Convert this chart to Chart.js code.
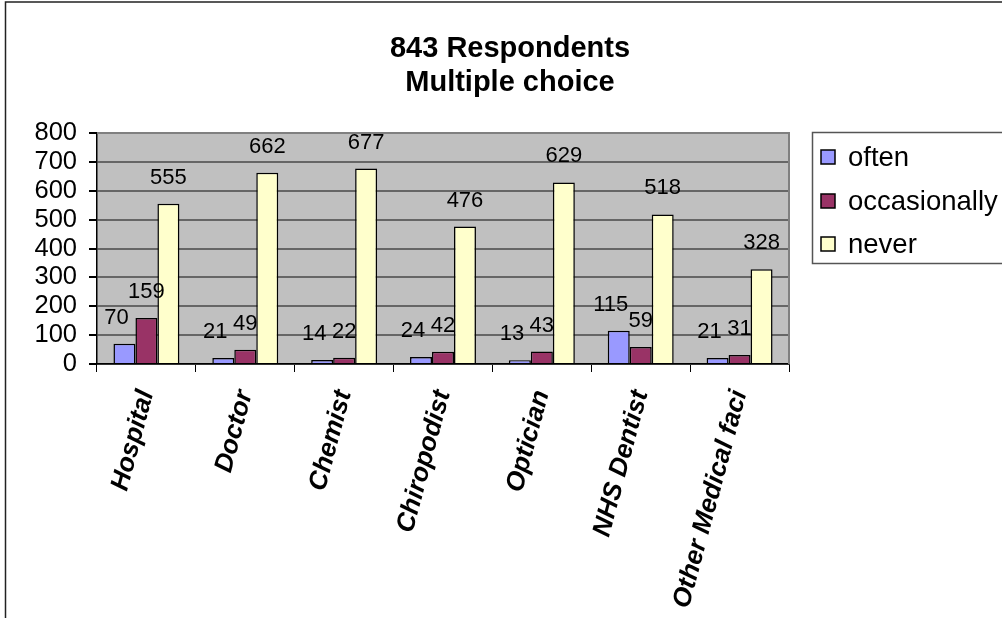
<!DOCTYPE html>
<html><head><meta charset="utf-8">
<script src="https://cdn.jsdelivr.net/npm/chart.js@4.4.0/dist/chart.umd.min.js"></script>
<style>html,body{margin:0;padding:0;background:#fff;overflow:hidden;}</style>
</head><body>
<canvas id="c" width="1002" height="618"></canvas>
<script>
const categories = ['Hospital', 'Doctor', 'Chemist', 'Chiropodist', 'Optician', 'NHS Dentist', 'Other Medical faci'];
const often = [70, 21, 14, 24, 13, 115, 21];
const occasionally = [159, 49, 22, 42, 43, 59, 31];
const never = [555, 662, 677, 476, 629, 518, 328];
const seriesNames = ['often', 'occasionally', 'never'];
const seriesColors = ['#9999FF', '#993366', '#FFFFCC'];
const yTicks = [0, 100, 200, 300, 400, 500, 600, 700, 800];
const titleLines = ['843 Respondents', 'Multiple choice'];

const FONT = "'Liberation Sans', Arial, sans-serif";

const decor = {
  id: 'decor',
  beforeDraw(chart) {
    const { ctx, chartArea: a } = chart;
    ctx.save();
    ctx.fillStyle = '#fff';
    ctx.fillRect(0, 0, chart.width, chart.height);
    ctx.fillStyle = '#C0C0C0';
    ctx.fillRect(a.left, a.top, a.right - a.left, a.bottom - a.top);
    ctx.restore();
  },
  afterDatasetsDraw(chart) {
    const { ctx } = chart;
    ctx.save();
    ctx.font = '22px ' + FONT;
    ctx.fillStyle = '#000';
    ctx.textAlign = 'center';
    ctx.textBaseline = 'alphabetic';
    const dx = [-8, 0, 0];
    chart.data.datasets.forEach((ds, i) => {
      const meta = chart.getDatasetMeta(i);
      meta.data.forEach((el, j) => {
        ctx.fillText(String(ds.data[j]), el.x + dx[i], el.y - 20);
      });
    });
    ctx.restore();
  },
  afterDraw(chart) {
    const { ctx, chartArea: a } = chart;
    ctx.save();
    ctx.strokeStyle = '#808080';
    ctx.lineWidth = 2;
    ctx.beginPath();
    ctx.moveTo(a.left, a.top);
    ctx.lineTo(a.right, a.top);
    ctx.lineTo(a.right, a.bottom);
    ctx.stroke();
    ctx.strokeStyle = '#222';
    ctx.lineWidth = 1.5;
    ctx.beginPath();
    ctx.moveTo(5.5, chart.height + 2);
    ctx.lineTo(5.5, 2);
    ctx.lineTo(chart.width + 2, 2);
    ctx.stroke();
    ctx.fillStyle = '#000';
    ctx.textAlign = 'center';
    ctx.textBaseline = 'alphabetic';
    ctx.font = 'bold 29px ' + FONT;
    ctx.fillText(titleLines[0], 510, 57);
    ctx.fillText(titleLines[1], 510, 91);
    ctx.strokeStyle = '#555';
    ctx.lineWidth = 1.5;
    ctx.strokeRect(812.5, 132.5, 200, 131);
    ctx.font = '27.5px ' + FONT;
    ctx.textAlign = 'left';
    ctx.textBaseline = 'middle';
    const rows = [157, 201, 244];
    chart.data.datasets.forEach((ds, i) => {
      const y = rows[i];
      ctx.fillStyle = ds.backgroundColor;
      ctx.fillRect(821, y - 7, 14, 14);
      ctx.strokeStyle = '#000';
      ctx.lineWidth = 1.5;
      ctx.strokeRect(821, y - 7, 14, 14);
      ctx.fillStyle = '#000';
      ctx.fillText(ds.label, 848, y + 1);
    });
    ctx.restore();
  }
};

new Chart(document.getElementById('c'), {
  type: 'bar',
  data: {
    labels: categories,
    datasets: [often, occasionally, never].map((d, i) => ({
      label: seriesNames[i],
      data: d,
      backgroundColor: seriesColors[i],
      borderColor: '#000',
      borderWidth: 1.5,
      categoryPercentage: 0.667,
      barPercentage: 1.0
    }))
  },
  options: {
    responsive: false,
    animation: false,
    devicePixelRatio: 1,
    layout: { padding: { top: 133, right: 213, left: 0, bottom: 0 } },
    plugins: { legend: { display: false }, title: { display: false }, tooltip: { enabled: false } },
    scales: {
      x: {
        afterFit(s) { s.height = 254; },
        border: { color: '#000', width: 1.5 },
        grid: { display: true, drawOnChartArea: false, drawTicks: true, tickLength: 8, tickColor: '#000', offset: true },
        ticks: {
          autoSkip: false, minRotation: 75, maxRotation: 75, padding: 15, labelOffset: 0,
          color: '#000', font: { family: FONT, size: 26, weight: 'bold', style: 'italic' }
        }
      },
      y: {
        min: 0, max: 800,
        afterFit(s) { s.width = 97; },
        afterBuildTicks(s) { s.ticks = yTicks.map(v => ({ value: v })); },
        border: { color: '#000', width: 1.5 },
        grid: { color: '#666', lineWidth: 2, tickLength: 8, tickColor: '#000' },
        ticks: { autoSkip: false, padding: 12, color: '#000', font: { family: FONT, size: 25.5, lineHeight: 1 } }
      }
    }
  },
  plugins: [decor]
});
</script>
</body></html>
